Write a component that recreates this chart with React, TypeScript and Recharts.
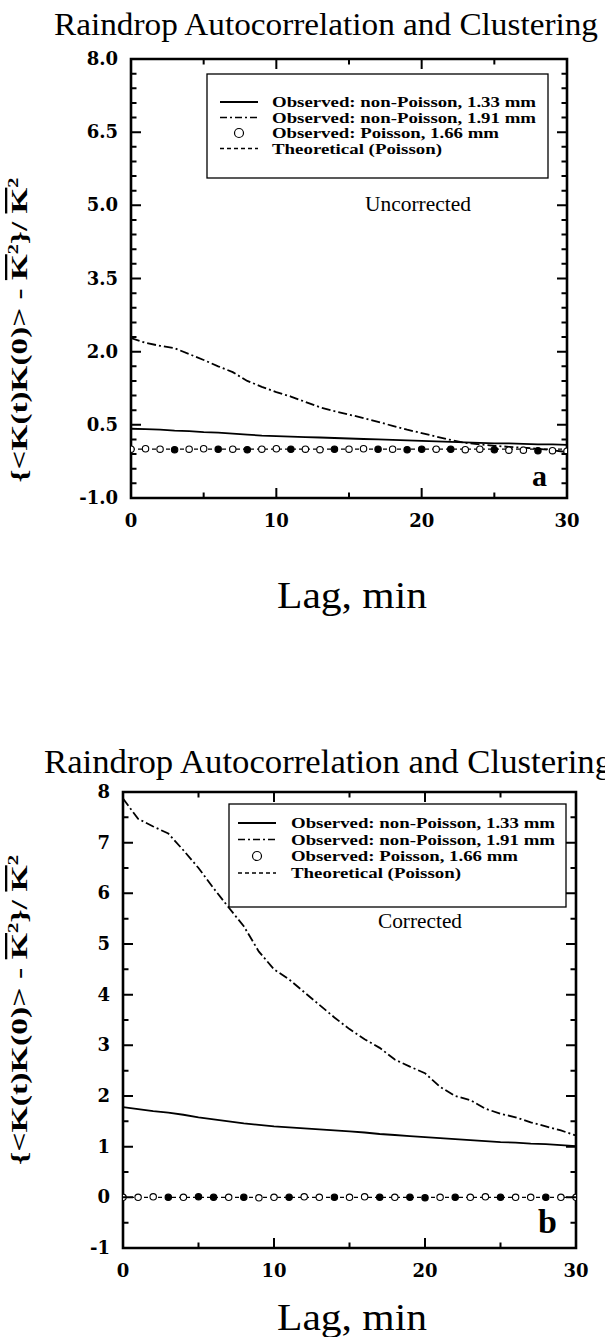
import React from 'react';
import { LineChart, Line, XAxis, YAxis, ReferenceArea } from 'recharts';

// lag in minutes
const LAGS = [0, 1, 2, 3, 4, 5, 6, 7, 8, 9, 10, 11, 12, 13, 14, 15, 16, 17, 18, 19, 20, 21, 22, 23, 24, 25, 26, 27, 28, 29, 30];

// panel a - uncorrected
const A_SOLID = [0.42, 0.41, 0.4, 0.38, 0.37, 0.35, 0.34, 0.32, 0.3, 0.28, 0.27, 0.26, 0.25, 0.24, 0.23, 0.22, 0.21, 0.2, 0.19, 0.18, 0.17, 0.16, 0.15, 0.14, 0.13, 0.12, 0.12, 0.11, 0.1, 0.1, 0.09];
const A_DASHDOT = [2.28, 2.18, 2.12, 2.07, 1.95, 1.83, 1.7, 1.58, 1.4, 1.28, 1.17, 1.08, 0.97, 0.86, 0.78, 0.71, 0.64, 0.56, 0.48, 0.4, 0.33, 0.26, 0.19, 0.13, 0.1, 0.07, 0.05, 0.03, 0.01, -0.02, -0.06];
const A_POISSON = [0.0, 0.01, 0.0, -0.01, 0.0, 0.01, 0.0, 0.0, -0.01, 0.0, 0.01, 0.0, 0.0, -0.01, 0.0, 0.0, 0.01, 0.0, 0.0, -0.01, 0.0, 0.0, 0.0, -0.01, 0.0, -0.01, -0.02, -0.02, -0.03, -0.03, -0.04];
const A_THEORY = [0, 0, 0, 0, 0, 0, 0, 0, 0, 0, 0, 0, 0, 0, 0, 0, 0, 0, 0, 0, 0, 0, 0, 0, 0, 0, 0, 0, 0, 0, 0];

// panel b - corrected
const B_SOLID = [1.78, 1.74, 1.7, 1.67, 1.63, 1.58, 1.54, 1.5, 1.46, 1.43, 1.4, 1.38, 1.36, 1.34, 1.32, 1.3, 1.28, 1.25, 1.23, 1.21, 1.19, 1.17, 1.15, 1.13, 1.11, 1.09, 1.08, 1.06, 1.05, 1.03, 1.01];
const B_DASHDOT = [7.87, 7.47, 7.32, 7.18, 6.85, 6.5, 6.1, 5.72, 5.35, 4.85, 4.5, 4.3, 4.05, 3.8, 3.55, 3.32, 3.12, 2.95, 2.72, 2.58, 2.45, 2.18, 2.0, 1.92, 1.75, 1.65, 1.58, 1.48, 1.4, 1.32, 1.22];
const B_POISSON = [0.0, 0.0, 0.01, 0.0, 0.0, 0.01, 0.0, 0.0, 0.0, -0.01, 0.0, 0.0, 0.01, 0.0, 0.0, 0.0, 0.01, 0.0, 0.0, 0.0, -0.01, 0.0, 0.0, 0.0, 0.01, 0.0, 0.0, 0.0, 0.0, 0.0, 0.0];
const B_THEORY = [0, 0, 0, 0, 0, 0, 0, 0, 0, 0, 0, 0, 0, 0, 0, 0, 0, 0, 0, 0, 0, 0, 0, 0, 0, 0, 0, 0, 0, 0, 0];

const X_TICKS = [0, 5, 10, 15, 20, 25, 30];
const X_LABELS = [0, 10, 20, 30];
const A_Y_TICKS = [-1, -0.7, -0.4, -0.1, 0.2, 0.5, 0.8, 1.1, 1.4, 1.7, 2, 2.3, 2.6, 2.9, 3.2, 3.5, 3.8, 4.1, 4.4, 4.7, 5, 5.3, 5.6, 5.9, 6.2, 6.5, 6.8, 7.1, 7.4, 7.7, 8];
const A_Y_LABELS = [-1, 0.5, 2, 3.5, 5, 6.5, 8];
const B_Y_TICKS = [-1, -0.5, 0, 0.5, 1, 1.5, 2, 2.5, 3, 3.5, 4, 4.5, 5, 5.5, 6, 6.5, 7, 7.5, 8];
const B_Y_LABELS = [-1, 0, 1, 2, 3, 4, 5, 6, 7, 8];

const TITLE = 'Raindrop Autocorrelation and Clustering';
const LEGEND = ['Observed: non-Poisson, 1.33 mm', 'Observed: non-Poisson, 1.91 mm', 'Observed: Poisson, 1.66 mm', 'Theoretical (Poisson)'];

// which markers look filled in the scan
const A_FILLED = [3, 6, 8, 11, 14, 17, 19, 20, 22, 25, 28];
const B_FILLED = [3, 5, 6, 8, 11, 14, 17, 19, 20, 22, 25, 28];

const SERIF = '"Liberation Serif", "Times New Roman", serif';
const TICK_FONT = '"DejaVu Serif", serif';
const MAJOR_LEN = 10;
const MINOR_LEN = 5.5;

const isMajor = (v: number, majors: number[]) => majors.some((m) => Math.abs(m - v) < 1e-6);

// tick labels only
const makeLabel = (side: string, majors: number[], fmt: (v: number) => string) => (props: any) => {
  const x = Number(props.x);
  const y = Number(props.y);
  const v = props.payload.value;
  if (!isMajor(v, majors)) return <g />;
  if (side === 'left') {
    return (
      <text x={x - 13} y={y} dy={6} textAnchor="end" fill="#000" fontFamily={TICK_FONT} fontWeight="bold" fontSize={18}>
        {fmt(v)}
      </text>
    );
  }
  return (
    <text x={x} y={y + 29} textAnchor="middle" fill="#000" fontFamily={TICK_FONT} fontWeight="bold" fontSize={18}>
      {fmt(v)}
    </text>
  );
};

const makeDot = (filled: number[]) => (props: any) => {
  const { cx, cy, index } = props;
  if (cx == null || cy == null) return <g key={index} />;
  return (
    <circle key={index} cx={cx} cy={cy} r={3.2} fill={filled.includes(index) ? '#000' : '#fff'} stroke="#000" strokeWidth={1.1} />
  );
};

interface Box { top: number; right: number; bottom: number; left: number }

interface PanelProps {
  top: number;
  height: number;
  plot: Box;
  solid: number[];
  dashdot: number[];
  poisson: number[];
  theory: number[];
  yTicks: number[];
  yLabels: number[];
  yFmt: (v: number) => string;
  filled: number[];
}

const AX_B = 30;
const AX_L = 40;

const Panel: React.FC<PanelProps> = (p) => {
  const rows = LAGS.map((lag, i) => ({ lag, solid: p.solid[i], dashdot: p.dashdot[i], poisson: p.poisson[i], theory: p.theory[i] }));
  const margin = {
    top: p.plot.top,
    right: p.plot.right,
    bottom: p.plot.bottom - AX_B,
    left: p.plot.left - AX_L,
  };
  return (
    <div style={{ position: 'absolute', left: 0, top: p.top }}>
      <LineChart width={605} height={p.height} data={rows} margin={margin}>
        <XAxis xAxisId="b" dataKey="lag" type="number" domain={[0, 30]} ticks={X_TICKS} interval={0} orientation="bottom" height={AX_B}
          tickSize={0} tickMargin={0} tickLine={false} axisLine={false} tick={makeLabel('bottom', X_LABELS, (v) => String(v))} allowDataOverflow />
        <YAxis yAxisId="l" type="number" domain={[-1, 8]} ticks={p.yTicks} interval={0} orientation="left" width={AX_L}
          tickSize={0} tickMargin={0} tickLine={false} axisLine={false} tick={makeLabel('left', p.yLabels, p.yFmt)} allowDataOverflow />
        <ReferenceArea xAxisId="b" yAxisId="l" x1={0} x2={30} y1={-1} y2={8} fill="none" fillOpacity={0} stroke="#000" strokeWidth={2.6} ifOverflow="visible" />
        <Line xAxisId="b" yAxisId="l" dataKey="theory" stroke="#000" strokeWidth={1.3} strokeDasharray="4 3" dot={false} isAnimationActive={false} />
        <Line xAxisId="b" yAxisId="l" dataKey="solid" stroke="#000" strokeWidth={1.8} dot={false} isAnimationActive={false} />
        <Line xAxisId="b" yAxisId="l" dataKey="dashdot" stroke="#000" strokeWidth={1.8} strokeDasharray="9 3 2 3" dot={false} isAnimationActive={false} />
        <Line xAxisId="b" yAxisId="l" dataKey="poisson" stroke="none" dot={makeDot(p.filled)} isAnimationActive={false} />
      </LineChart>
    </div>
  );
};

// inward frame ticks, in page pixels (frame box in page coordinates)
const FrameTicks: React.FC<{ box: { x0: number; x1: number; y0: number; y1: number }; yTicks: number[]; yLabels: number[] }> = ({ box, yTicks, yLabels }) => {
  const sx = (lag: number) => box.x0 + (lag / 30) * (box.x1 - box.x0);
  const sy = (v: number) => box.y1 - ((v + 1) / 9) * (box.y1 - box.y0);
  let d = '';
  X_TICKS.forEach((t) => {
    const len = isMajor(t, X_LABELS) ? MAJOR_LEN : MINOR_LEN;
    const x = sx(t);
    d += `M${x},${box.y1}L${x},${box.y1 - len}M${x},${box.y0}L${x},${box.y0 + len}`;
  });
  yTicks.forEach((v) => {
    const len = isMajor(v, yLabels) ? MAJOR_LEN : MINOR_LEN;
    const y = sy(v);
    d += `M${box.x0},${y}L${box.x0 + len},${y}M${box.x1},${y}L${box.x1 - len},${y}`;
  });
  return <path d={d} stroke="#000" strokeWidth={2} fill="none" />;
};

const Legend: React.FC<{ x: number; y: number; w: number; h: number; rows: number[]; sx: number; tx: number }> = ({ x, y, w, h, rows, sx, tx }) => {
  const widths = [264, 264, 227, 170];
  return (
    <g>
      <rect x={x} y={y} width={w} height={h} fill="#fff" stroke="#000" strokeWidth={1.3} />
      <line x1={sx} x2={sx + 38} y1={rows[0]} y2={rows[0]} stroke="#000" strokeWidth={1.8} />
      <line x1={sx} x2={sx + 38} y1={rows[1]} y2={rows[1]} stroke="#000" strokeWidth={1.6} strokeDasharray="7 3 2 3" />
      <circle cx={sx + 19} cy={rows[2]} r={4.5} fill="#fff" stroke="#000" strokeWidth={1.2} />
      <line x1={sx} x2={sx + 38} y1={rows[3]} y2={rows[3]} stroke="#000" strokeWidth={1.4} strokeDasharray="4 3" />
      {LEGEND.map((t, i) => (
        <text key={t} x={tx} y={rows[i] + 5} fontFamily={SERIF} fontWeight="bold" fontSize={15} textLength={widths[i]} lengthAdjust="spacingAndGlyphs">
          {t}
        </text>
      ))}
    </g>
  );
};

const YTitle: React.FC<{ cx: number; cy: number; len: number }> = ({ cx, cy, len }) => (
  <text transform={`translate(${cx},${cy}) rotate(-90)`} textAnchor="middle" fontFamily={SERIF} fontWeight="bold" fontSize={23}
    textLength={len} lengthAdjust="spacingAndGlyphs">
    {'{<K(t)K(0)> - '}
    <tspan style={{ textDecoration: 'overline' }}>K</tspan>
    <tspan fontSize={14} dy={-9}>2</tspan>
    <tspan dy={9}>{'}/ '}</tspan>
    <tspan style={{ textDecoration: 'overline' }}>K</tspan>
    <tspan fontSize={14} dy={-9}>2</tspan>
  </text>
);

const PLOT_A: Box = { top: 59, right: 38, bottom: 62, left: 131 };
const PLOT_B: Box = { top: 92, right: 29, bottom: 89, left: 123 };

export default function App() {
  return (
    <div style={{ position: 'absolute', left: 0, top: 0, width: 605, height: 1337, background: '#fff', overflow: 'hidden' }}>
      <Panel top={0} height={560} plot={PLOT_A}
        solid={A_SOLID} dashdot={A_DASHDOT} poisson={A_POISSON} theory={A_THEORY}
        yTicks={A_Y_TICKS} yLabels={A_Y_LABELS} yFmt={(v) => v.toFixed(1)} filled={A_FILLED} />
      <Panel top={700} height={637} plot={PLOT_B}
        solid={B_SOLID} dashdot={B_DASHDOT} poisson={B_POISSON} theory={B_THEORY}
        yTicks={B_Y_TICKS} yLabels={B_Y_LABELS} yFmt={(v) => String(v)} filled={B_FILLED} />
      <svg width={605} height={1337} style={{ position: 'absolute', left: 0, top: 0, pointerEvents: 'none' }}>
        <FrameTicks box={{ x0: 131, x1: 605 - 38, y0: 59, y1: 560 - 62 }} yTicks={A_Y_TICKS} yLabels={A_Y_LABELS} />
        <FrameTicks box={{ x0: 123, x1: 605 - 29, y0: 700 + 92, y1: 700 + 637 - 89 }} yTicks={B_Y_TICKS} yLabels={B_Y_LABELS} />
        <text x={54} y={35} fontFamily={SERIF} fontSize={32} textLength={544} lengthAdjust="spacingAndGlyphs">{TITLE}</text>
        <text x={44} y={773} fontFamily={SERIF} fontSize={33} textLength={568} lengthAdjust="spacingAndGlyphs">{TITLE}</text>
        <Legend x={207} y={74} w={341} h={104} rows={[102, 117.5, 133, 148.5]} sx={220} tx={272} />
        <Legend x={229} y={804} w={337} h={103} rows={[823, 839.5, 856, 873]} sx={238} tx={291} />
        <text x={365} y={211} fontFamily={SERIF} fontSize={20} textLength={106} lengthAdjust="spacingAndGlyphs">Uncorrected</text>
        <text x={378} y={928} fontFamily={SERIF} fontSize={20} textLength={84} lengthAdjust="spacingAndGlyphs">Corrected</text>
        <text x={532} y={486} fontFamily={SERIF} fontWeight="bold" fontSize={30}>a</text>
        <text x={538} y={1233} fontFamily={SERIF} fontWeight="bold" fontSize={34}>b</text>
        <text x={352} y={608} textAnchor="middle" fontFamily={SERIF} fontSize={38} textLength={150} lengthAdjust="spacingAndGlyphs">Lag, min</text>
        <text x={352} y={1330} textAnchor="middle" fontFamily={SERIF} fontSize={38} textLength={150} lengthAdjust="spacingAndGlyphs">Lag, min</text>
        <YTitle cx={27} cy={330} len={305} />
        <YTitle cx={27} cy={1010} len={310} />
      </svg>
    </div>
  );
}
